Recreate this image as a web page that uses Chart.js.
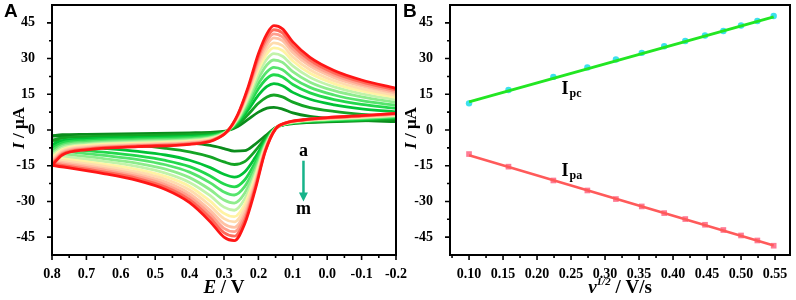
<!DOCTYPE html>
<html>
<head>
<meta charset="utf-8">
<script src="https://cdn.jsdelivr.net/npm/chart.js@4"></script>
<style>
  html, body { margin: 0; padding: 0; background: #fff; }
  #wrap { position: relative; width: 796px; height: 300px; overflow: hidden; }
  #cvA { position: absolute; left: 0; top: 0; }
  #cvB { position: absolute; left: 400px; top: 0; }
</style>
</head>
<body>
<div id="wrap">
  <canvas id="cvA" width="412" height="300"></canvas>
  <canvas id="cvB" width="396" height="300"></canvas>
</div>
<script>
'use strict';

const SERIF = '"Liberation Serif", "Times New Roman", serif';

// ---- panel A: cyclic voltammograms a..m ----
const curveNames = ['a','b','c','d','e','f','g','h','i','j','k','l','m'];
const curveColors = ['#0b8c1c','#14a424','#00c236','#22d84c','#55e46c','#8eec8c','#c2f3aa',
                     '#fff3a4','#ffdcae','#ffc2a4','#ffa08e','#ff6a5a','#ff1616'];

// potential grid, forward scan (0.8 -> -0.2) and reverse scan (-0.2 -> 0.8)
const forwardE = [0.8, 0.77, 0.7, 0.55, 0.4, 0.33, 0.29, 0.26, 0.23, 0.2, 0.175, 0.155, 0.13, 0.1, 0.05, -0.02, -0.1, -0.2];
const reverseE = [-0.2, -0.1, 0.0, 0.07, 0.12, 0.15, 0.18, 0.21, 0.24, 0.27, 0.3, 0.34, 0.4, 0.47, 0.55, 0.65, 0.8];

const fwdA = [-2.5, -2.0, -1.8, -1.5, -1.2, -0.9, -0.3, 1.5, 4.5, 7.5, 9.2, 9.5, 8.8, 7.2, 5.7, 4.7, 4.0, 3.5];
const fwdB = [-4.3, -3.3, -2.8, -2.3, -1.9, -1.4, -0.3, 2.3, 6.5, 11.2, 13.9, 14.7, 13.9, 11.7, 9.4, 7.8, 6.6, 5.6];
const fwdC = [-6.1, -4.5, -3.7, -3.1, -2.6, -1.9, -0.4, 3.0, 8.4, 14.6, 18.3, 19.5, 18.6, 15.8, 12.9, 10.6, 8.9, 7.6];
const fwdD = [-7.4, -5.4, -4.4, -3.7, -3.1, -2.3, -0.4, 3.5, 9.9, 17.3, 21.7, 23.2, 22.3, 19.1, 15.6, 12.8, 10.8, 9.1];
const fwdE = [-8.5, -6.2, -5.0, -4.2, -3.6, -2.6, -0.4, 4.0, 11.1, 19.5, 24.5, 26.3, 25.3, 21.8, 17.9, 14.7, 12.3, 10.4];
const fwdF = [-9.6, -6.9, -5.6, -4.7, -4.0, -2.9, -0.4, 4.4, 12.3, 21.7, 27.4, 29.4, 28.4, 24.5, 20.1, 16.5, 13.9, 11.6];
const fwdG = [-10.6, -7.6, -6.1, -5.1, -4.4, -3.1, -0.4, 4.8, 13.4, 23.7, 29.9, 32.1, 31.0, 26.9, 22.1, 18.1, 15.2, 12.7];
const fwdH = [-11.5, -8.2, -6.5, -5.5, -4.7, -3.4, -0.5, 5.2, 14.4, 25.4, 32.1, 34.5, 33.4, 29.0, 23.8, 19.5, 16.4, 13.7];
const fwdI = [-12.2, -8.7, -6.9, -5.9, -5.0, -3.6, -0.5, 5.5, 15.2, 26.9, 33.9, 36.6, 35.4, 30.7, 25.3, 20.7, 17.4, 14.6];
const fwdJ = [-13.0, -9.2, -7.3, -6.2, -5.3, -3.8, -0.5, 5.8, 16.0, 28.3, 35.8, 38.7, 37.5, 32.5, 26.8, 22.0, 18.5, 15.4];
const fwdK = [-13.6, -9.7, -7.7, -6.5, -5.5, -4.0, -0.5, 6.0, 16.7, 29.6, 37.4, 40.4, 39.1, 34.0, 28.0, 23.0, 19.3, 16.1];
const fwdL = [-14.2, -10.1, -8.0, -6.7, -5.8, -4.1, -0.5, 6.3, 17.3, 30.8, 38.9, 42.1, 40.8, 35.5, 29.3, 24.0, 20.2, 16.8];
const fwdM = [-14.8, -10.5, -8.3, -7.0, -6.0, -4.3, -0.5, 6.5, 18.0, 32.0, 40.5, 43.8, 42.5, 37.0, 30.5, 25.0, 21.0, 17.5];

const revA = [4.3, 3.8, 3.4, 3.0, 2.3, 1.0, -2.5, -6.0, -8.7, -8.9, -7.8, -6.5, -5.4, -4.6, -3.9, -3.3, -2.5];
const revB = [4.7, 4.1, 3.7, 3.2, 2.4, 0.9, -3.5, -8.9, -13.3, -14.5, -13.4, -11.3, -9.2, -7.7, -6.5, -5.6, -4.3];
const revC = [5.1, 4.4, 3.9, 3.4, 2.5, 0.9, -4.4, -11.7, -17.6, -19.8, -18.6, -15.8, -12.7, -10.5, -9.0, -7.7, -6.1];
const revD = [5.4, 4.7, 4.1, 3.5, 2.6, 0.8, -5.1, -13.8, -21.0, -23.9, -22.7, -19.3, -15.4, -12.8, -10.9, -9.3, -7.4];
const revE = [5.6, 4.9, 4.3, 3.6, 2.6, 0.8, -5.7, -15.6, -23.8, -27.3, -26.0, -22.2, -17.7, -14.6, -12.4, -10.7, -8.5];
const revF = [5.9, 5.1, 4.4, 3.8, 2.7, 0.7, -6.3, -17.3, -26.6, -30.7, -29.4, -25.1, -20.0, -16.4, -14.0, -12.0, -9.6];
const revG = [6.1, 5.3, 4.6, 3.9, 2.8, 0.7, -6.8, -18.9, -29.0, -33.7, -32.4, -27.6, -22.0, -18.1, -15.4, -13.2, -10.6];
const revH = [6.3, 5.4, 4.7, 4.0, 2.8, 0.6, -7.3, -20.2, -31.2, -36.4, -35.0, -29.9, -23.7, -19.5, -16.6, -14.3, -11.5];
const revI = [6.4, 5.5, 4.8, 4.0, 2.9, 0.6, -7.6, -21.4, -33.0, -38.6, -37.2, -31.8, -25.2, -20.7, -17.7, -15.2, -12.2];
const revJ = [6.6, 5.7, 4.9, 4.1, 2.9, 0.6, -8.0, -22.6, -34.9, -40.9, -39.4, -33.7, -26.7, -21.9, -18.7, -16.1, -13.0];
const revK = [6.7, 5.8, 5.0, 4.2, 2.9, 0.6, -8.4, -23.6, -36.4, -42.7, -41.3, -35.3, -28.0, -23.0, -19.6, -16.8, -13.6];
const revL = [6.9, 5.9, 5.1, 4.2, 3.0, 0.5, -8.7, -24.5, -38.0, -44.6, -43.1, -36.9, -29.3, -24.0, -20.4, -17.6, -14.2];
const revM = [7.0, 6.0, 5.2, 4.3, 3.0, 0.5, -9.0, -25.5, -39.5, -46.5, -45.0, -38.5, -30.5, -25.0, -21.3, -18.3, -14.8];

const forwardI = [fwdA, fwdB, fwdC, fwdD, fwdE, fwdF, fwdG, fwdH, fwdI, fwdJ, fwdK, fwdL, fwdM];
const reverseI = [revA, revB, revC, revD, revE, revF, revG, revH, revI, revJ, revK, revL, revM];

const yTicks = [-45, -30, -15, 0, 15, 30, 45];
const yMinor = [-37.5, -22.5, -7.5, 7.5, 22.5, 37.5];
const xTicksA = [0.8, 0.7, 0.6, 0.5, 0.4, 0.3, 0.2, 0.1, 0.0, -0.1, -0.2];
const xMinorA = [0.75, 0.65, 0.55, 0.45, 0.35, 0.25, 0.15, 0.05, -0.05, -0.15];

// ---- panel B: peak currents vs square root of scan rate ----
const sqrtRate = [0.100, 0.158, 0.224, 0.274, 0.316, 0.354, 0.387, 0.418, 0.447, 0.474, 0.500, 0.524, 0.548];
const ipc = [11.2, 16.8, 22.3, 26.3, 29.6, 32.4, 35.2, 37.4, 39.7, 41.6, 43.9, 45.8, 47.9];
const ipa = [-10.1, -15.4, -21.2, -25.4, -29.0, -32.1, -34.9, -37.4, -39.8, -42.0, -44.3, -46.4, -48.6];
const fitX = [0.100, 0.548];
const ipcFit = [11.8, 47.5];
const ipaFit = [-10.6, -48.5];
const xTicksB = [0.10, 0.15, 0.20, 0.25, 0.30, 0.35, 0.40, 0.45, 0.50, 0.55];
const xMinorB = [0.075, 0.125, 0.175, 0.225, 0.275, 0.325, 0.375, 0.425, 0.475, 0.525];

function pts(xs, ys) {
  return xs.map((x, i) => ({ x: x, y: ys[i] }));
}

function drawRich(ctx, parts, x, y, rotate) {
  ctx.save();
  ctx.translate(x, y);
  if (rotate) ctx.rotate(-Math.PI / 2);
  let w = 0;
  parts.forEach(p => { ctx.font = p.font; w += ctx.measureText(p.t).width; });
  let cx = -w / 2;
  ctx.textBaseline = 'middle';
  ctx.fillStyle = '#000';
  parts.forEach(p => {
    ctx.font = p.font;
    ctx.fillText(p.t, cx, p.dy || 0);
    cx += ctx.measureText(p.t).width;
  });
  ctx.restore();
}

// frame, outward tick marks, titles and notes
const decor = {
  id: 'decor',
  afterDraw(chart, args, opts) {
    const { ctx, chartArea: ca, scales } = chart;
    ctx.save();
    ctx.strokeStyle = '#000';
    ctx.lineWidth = 2;
    ctx.strokeRect(ca.left, ca.top, ca.right - ca.left, ca.bottom - ca.top);
    ctx.lineWidth = 1.6;
    ctx.beginPath();
    opts.yMajor.forEach(v => { const y = scales.y.getPixelForValue(v); ctx.moveTo(ca.left, y); ctx.lineTo(ca.left - 5, y); });
    opts.yMinor.forEach(v => { const y = scales.y.getPixelForValue(v); ctx.moveTo(ca.left, y); ctx.lineTo(ca.left - 3, y); });
    opts.xMajor.forEach(v => { const x = scales.x.getPixelForValue(v); ctx.moveTo(x, ca.bottom); ctx.lineTo(x, ca.bottom + 5); });
    opts.xMinor.forEach(v => { const x = scales.x.getPixelForValue(v); ctx.moveTo(x, ca.bottom); ctx.lineTo(x, ca.bottom + 3); });
    ctx.stroke();

    ctx.fillStyle = '#000';
    ctx.font = 'bold 19px "Liberation Sans", Arial, sans-serif';
    ctx.textBaseline = 'middle';
    ctx.fillText(opts.panel, opts.panelX, 12);

    drawRich(ctx, [{ t: 'I', font: 'italic bold 17px ' + SERIF }, { t: ' / \u03bcA', font: 'bold 17px ' + SERIF }],
      opts.yTitleX, 128, true);
    drawRich(ctx, opts.xTitle, (ca.left + ca.right) / 2, 288, false);
    if (opts.extra) opts.extra(ctx, scales);
    ctx.restore();
  }
};

function baseOptions(xMin, xMax, xTicks, digits, reverse, yWidth, padRight) {
  return {
    responsive: false,
    animation: false,
    layout: { padding: { top: 5, right: padRight, left: 0, bottom: 0 } },
    plugins: { legend: { display: false }, tooltip: { enabled: false } },
    scales: {
      x: {
        type: 'linear', min: xMin, max: xMax, reverse: reverse,
        grid: { display: false }, border: { display: false },
        afterBuildTicks: s => { s.ticks = xTicks.map(v => ({ value: v })); },
        afterFit: s => { s.height = 45; s.paddingLeft = 0; s.paddingRight = 0; },
        ticks: {
          color: '#000', padding: 3, maxRotation: 0, autoSkip: false,
          font: { family: SERIF, size: 14, weight: 'bold' },
          callback: v => Number(v).toFixed(digits)
        }
      },
      y: {
        type: 'linear', min: -52.5, max: 52.5,
        grid: { display: false }, border: { display: false },
        afterBuildTicks: s => { s.ticks = yTicks.map(v => ({ value: v })); },
        afterFit: s => { s.width = yWidth; s.paddingTop = 0; s.paddingBottom = 0; },
        ticks: {
          color: '#000', padding: 9, autoSkip: false,
          font: { family: SERIF, size: 14, weight: 'bold' },
          callback: v => String(v)
        }
      }
    }
  };
}

// panel A
const dsA = [];
curveNames.forEach((name, i) => {
  [[forwardE, forwardI[i]], [reverseE, reverseI[i]]].forEach(branch => {
    dsA.push({
      label: name,
      data: pts(branch[0], branch[1]),
      showLine: true,
      borderColor: curveColors[i],
      borderWidth: 2.8,
      pointRadius: 0,
      cubicInterpolationMode: 'monotone',
      order: curveNames.length - i
    });
  });
});

const optsA = baseOptions(-0.2, 0.8, xTicksA, 1, true, 52, 16);
optsA.plugins.decor = {
  panel: 'A', panelX: 4, yTitleX: 20,
  yMajor: yTicks, yMinor: yMinor, xMajor: xTicksA, xMinor: xMinorA,
  xTitle: [{ t: 'E', font: 'italic bold 19px ' + SERIF }, { t: ' / V', font: 'bold 19px ' + SERIF }],
  extra: (ctx, scales) => {
    const x = scales.x.getPixelForValue(0.069);
    ctx.font = 'bold 18px ' + SERIF;
    ctx.textAlign = 'center';
    ctx.textBaseline = 'middle';
    ctx.fillText('a', x, scales.y.getPixelForValue(-9.1));
    ctx.fillText('m', x, scales.y.getPixelForValue(-33.5));
    const y0 = scales.y.getPixelForValue(-12.9);
    const y1 = scales.y.getPixelForValue(-30);
    ctx.strokeStyle = '#17b38a';
    ctx.fillStyle = '#17b38a';
    ctx.lineWidth = 2.5;
    ctx.beginPath();
    ctx.moveTo(x, y0);
    ctx.lineTo(x, y1 - 7);
    ctx.stroke();
    ctx.beginPath();
    ctx.moveTo(x - 4.5, y1 - 9);
    ctx.lineTo(x + 4.5, y1 - 9);
    ctx.lineTo(x, y1);
    ctx.closePath();
    ctx.fill();
  }
};

new Chart(document.getElementById('cvA'), {
  type: 'scatter',
  data: { datasets: dsA },
  options: optsA,
  plugins: [decor]
});

// panel B
const optsB = baseOptions(0.072, 0.572, xTicksB, 2, false, 50, 6);
optsB.plugins.decor = {
  panel: 'B', panelX: 3, yTitleX: 12,
  yMajor: yTicks, yMinor: yMinor, xMajor: xTicksB, xMinor: xMinorB,
  xTitle: [
    { t: 'v', font: 'italic bold 19px ' + SERIF },
    { t: '1/2', font: 'italic bold 11px ' + SERIF, dy: -6 },
    { t: ' / V/s', font: 'bold 19px ' + SERIF }
  ],
  extra: (ctx, scales) => {
    const lab = (main, sub, xv, yv) => {
      const x = scales.x.getPixelForValue(xv);
      const y = scales.y.getPixelForValue(yv);
      ctx.textAlign = 'left';
      ctx.textBaseline = 'alphabetic';
      ctx.font = 'bold 18px ' + SERIF;
      ctx.fillText(main, x, y + 6);
      const w = ctx.measureText(main).width;
      ctx.font = 'bold 12px ' + SERIF;
      ctx.fillText(sub, x + w + 1, y + 9);
    };
    lab('I', 'pc', 0.236, 17.6);
    lab('I', 'pa', 0.236, -16.8);
  }
};

new Chart(document.getElementById('cvB'), {
  type: 'scatter',
  data: {
    datasets: [
      { label: 'Ipc fit', data: pts(fitX, ipcFit), showLine: true, borderColor: '#22e622', borderWidth: 3, pointRadius: 0, order: 0 },
      { label: 'Ipc', data: pts(sqrtRate, ipc), pointRadius: 3.2, pointBackgroundColor: '#3ee0ee', pointBorderWidth: 0, order: 1 },
      { label: 'Ipa fit', data: pts(fitX, ipaFit), showLine: true, borderColor: '#ff5a5a', borderWidth: 2.5, pointRadius: 0, order: 0 },
      { label: 'Ipa', data: pts(sqrtRate, ipa), pointStyle: 'rect', pointRadius: 4, pointBackgroundColor: '#ff7c95', pointBorderWidth: 0, order: 1 }
    ]
  },
  options: optsB,
  plugins: [decor]
});
</script>
</body>
</html>
